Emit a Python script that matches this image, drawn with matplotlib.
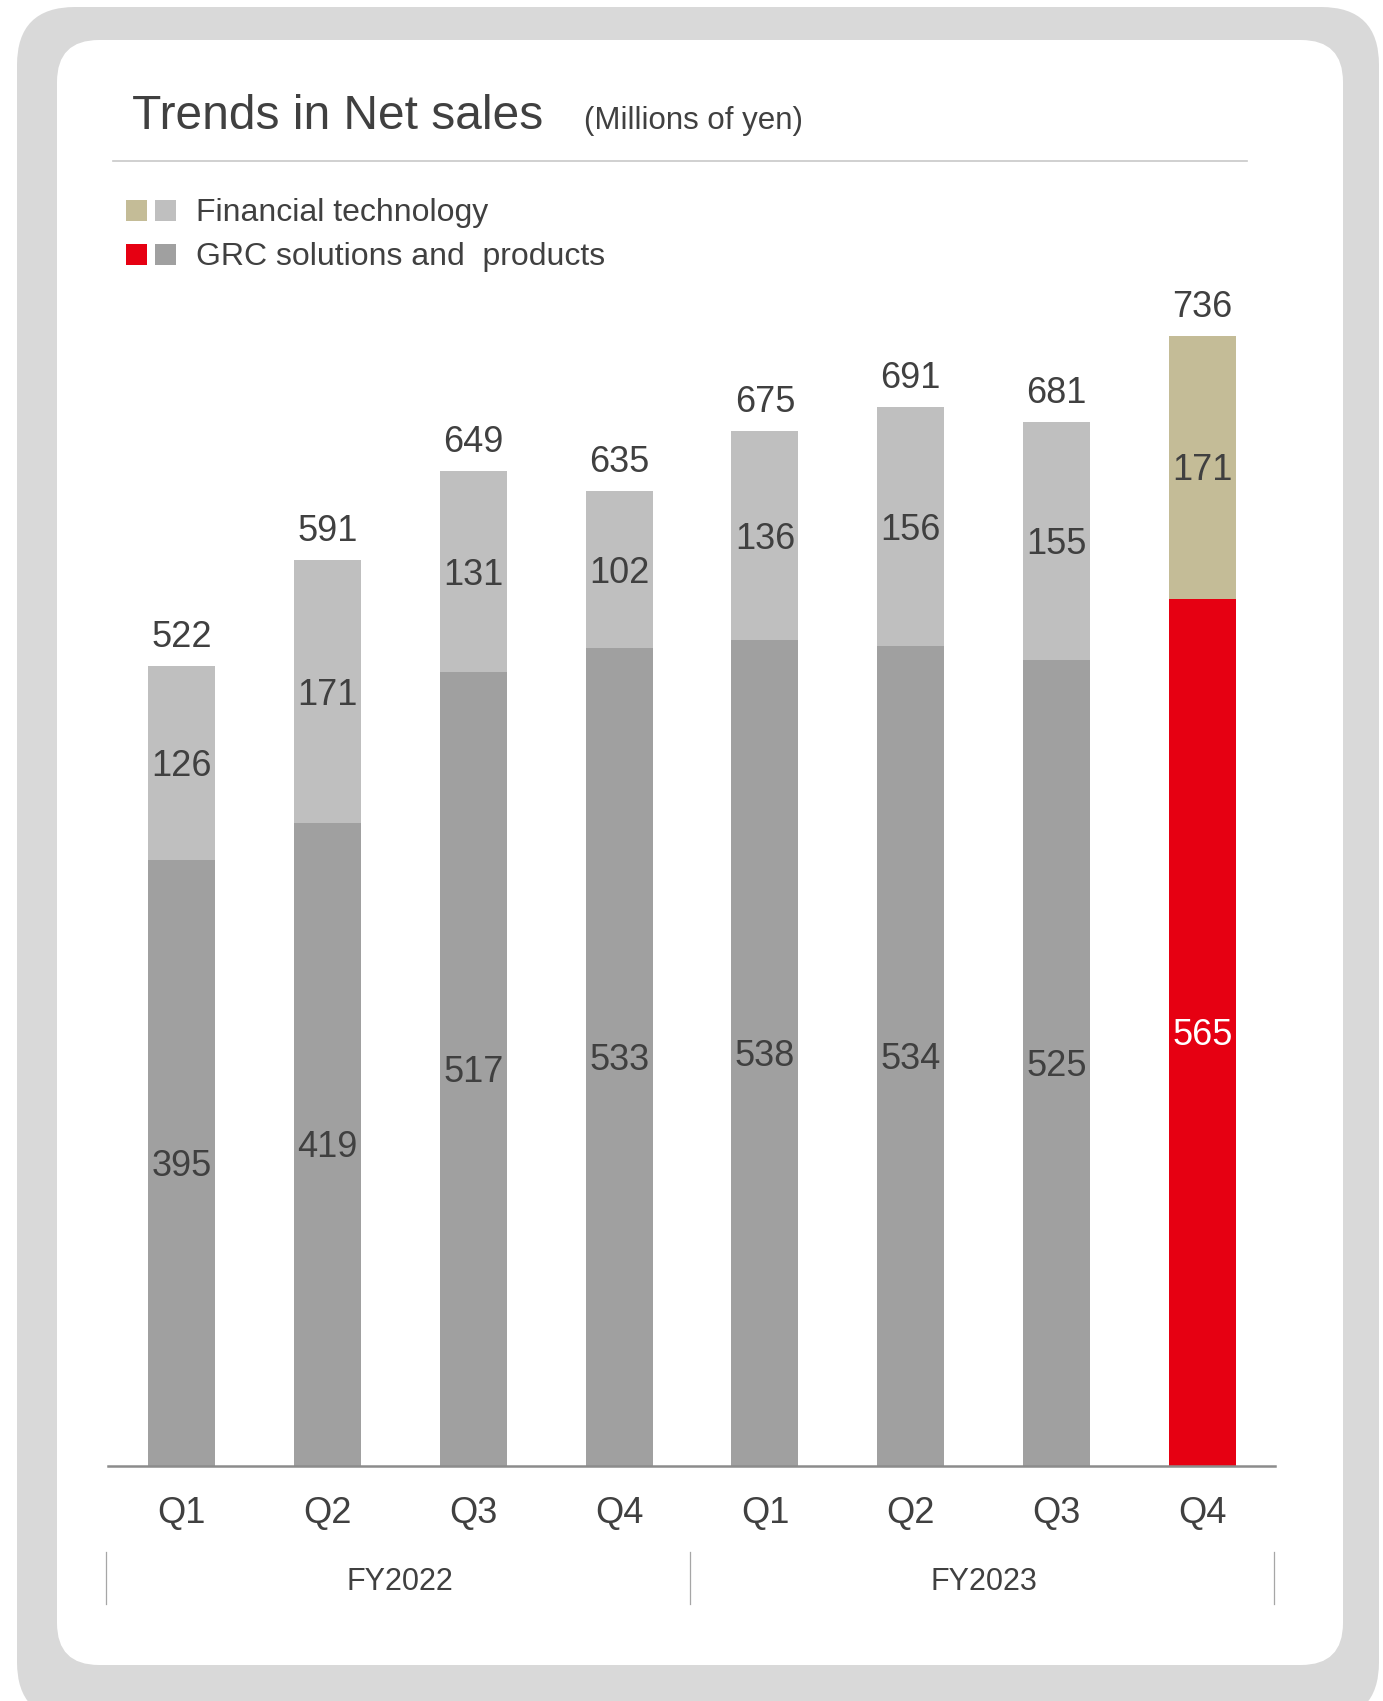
import matplotlib
matplotlib.use("Agg")
import matplotlib.pyplot as plt
from matplotlib.patches import FancyBboxPatch, Rectangle

plt.rcParams['font.family'] = ['Liberation Sans', 'DejaVu Sans']

# ---- data (millions of yen) ----
quarters = ["Q1", "Q2", "Q3", "Q4", "Q1", "Q2", "Q3", "Q4"]
fiscal_years = ["FY2022", "FY2023"]
grc_sales = [395, 419, 517, 533, 538, 534, 525, 565]
fintech_sales = [126, 171, 131, 102, 136, 156, 155, 171]
total_sales = [522, 591, 649, 635, 675, 691, 681, 736]

# ---- styles ----
TEXT = "#404040"
GRC_GRAY = "#a0a0a0"
FT_GRAY = "#bfbfbf"
GRC_RED = "#e60012"
FT_TAN = "#c4bc97"
FRAME = "#d9d9d9"
highlight = len(quarters) - 1

W, H = 1383, 1701
fig = plt.figure(figsize=(W / 100, H / 100), dpi=100)

# background canvas in pixel units
bg = fig.add_axes([0, 0, 1, 1])
bg.set_xlim(0, W)
bg.set_ylim(H, 0)
bg.axis("off")
bg.add_patch(FancyBboxPatch((17, 7), 1362, 1713,
                            boxstyle="round,pad=0,rounding_size=58",
                            fc=FRAME, ec="none"))
bg.add_patch(FancyBboxPatch((57, 40), 1286, 1625,
                            boxstyle="round,pad=0,rounding_size=42",
                            fc="white", ec="none"))

# title and unit
bg.text(132, 129, "Trends in Net sales", fontsize=34.5, color=TEXT, va="baseline")
bg.text(584, 129, "(Millions of yen)", fontsize=22.5, color=TEXT, va="baseline")
bg.plot([113, 1247], [161, 161], color="#c8c8c8", lw=1.2)

# legend
legend_rows = [("Financial technology", FT_TAN, FT_GRAY, 200),
               ("GRC solutions and  products", GRC_RED, GRC_GRAY, 244)]
for label, c1, c2, top in legend_rows:
    bg.add_patch(Rectangle((126, top), 21, 21, fc=c1, ec="none"))
    bg.add_patch(Rectangle((155, top), 21, 21, fc=c2, ec="none"))
    bg.text(196, top + 21, label, fontsize=23, color=TEXT, va="baseline")

# ---- bar chart ----
ax = fig.add_axes([108.3 / W, (H - 1466) / H, (1275.3 - 108.3) / W, 1228 / H])
ax.set_facecolor("none")
ax.set_xlim(-0.502, 7.499)
ax.set_ylim(0, 800)
px = 800 / 1228  # data units per pixel

x = list(range(len(quarters)))
grc_colors = [GRC_RED if i == highlight else GRC_GRAY for i in x]
ft_colors = [FT_TAN if i == highlight else FT_GRAY for i in x]

ax.bar(x, grc_sales, width=0.459, color=grc_colors, zorder=2)
ax.bar(x, fintech_sales, width=0.459, bottom=grc_sales, color=ft_colors, zorder=2)

cap = 13  # half cap height of 26pt labels, px
for i in x:
    g, f, t = grc_sales[i], fintech_sales[i], total_sales[i]
    ax.annotate(str(g), (i, g / 2), xytext=(0, -cap * 0.72), textcoords="offset points",
                ha="center", va="baseline", fontsize=26,
                color="white" if i == highlight else TEXT, zorder=3)
    ax.annotate(str(f), (i, g + f / 2), xytext=(0, -cap * 0.72), textcoords="offset points",
                ha="center", va="baseline", fontsize=26, color=TEXT, zorder=3)
    ax.annotate(str(t), (i, g + f), xytext=(0, 19 * 0.72), textcoords="offset points",
                ha="center", va="baseline", fontsize=26, color=TEXT, zorder=3)
    ax.annotate(quarters[i], (i, 0), xytext=(0, -57 * 0.72), textcoords="offset points",
                ha="center", va="baseline", fontsize=26, color=TEXT,
                annotation_clip=False)

# fiscal year groups
for k, fy in enumerate(fiscal_years):
    ax.annotate(fy, (1.5 + 4 * k, 0), xytext=(0, -124 * 0.72), textcoords="offset points",
                ha="center", va="baseline", fontsize=22, color=TEXT,
                annotation_clip=False)
for xs in (-0.516, 3.486, 7.488):
    ax.plot([xs, xs], [-86 * px, -138 * px], color="#a6a6a6", lw=0.9, clip_on=False)

for side in ("top", "left", "right"):
    ax.spines[side].set_visible(False)
ax.spines["bottom"].set_color("#8c8c8c")
ax.spines["bottom"].set_linewidth(1.8)
ax.spines["bottom"].set_zorder(4)
ax.set_xticks([])
ax.set_yticks([])

fig.savefig("out.png", dpi=100)
